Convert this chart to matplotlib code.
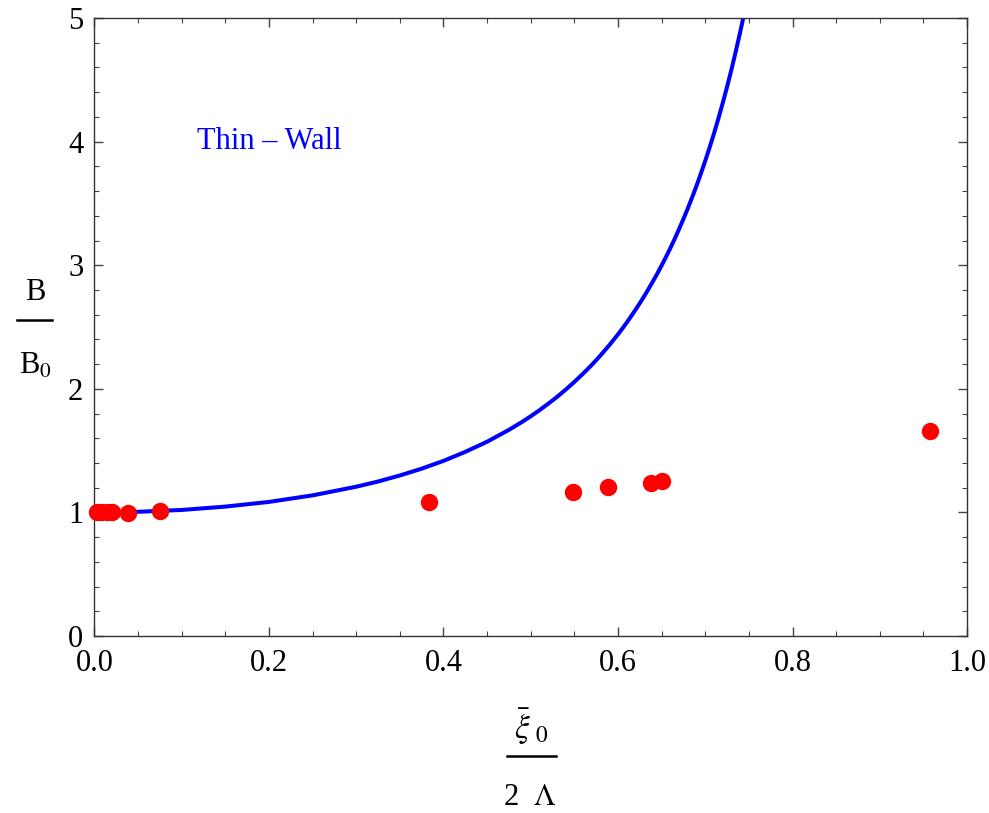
import matplotlib
matplotlib.use('Agg')
import matplotlib.pyplot as plt
from matplotlib.lines import Line2D
from matplotlib.ticker import MultipleLocator

# thin-wall curve
curve_x = [0.0, 0.05, 0.1, 0.15, 0.2, 0.25, 0.3, 0.325, 0.35, 0.375, 0.4,
           0.425, 0.45, 0.475, 0.49, 0.5, 0.51, 0.525, 0.53, 0.54, 0.55,
           0.56, 0.57, 0.575, 0.58, 0.59, 0.6, 0.605, 0.61, 0.615, 0.62,
           0.625, 0.63, 0.635, 0.64, 0.645, 0.65, 0.655, 0.66, 0.665, 0.67,
           0.675, 0.68, 0.685, 0.69, 0.695, 0.7, 0.705, 0.71, 0.715, 0.72,
           0.725, 0.73, 0.735, 0.74, 0.745, 0.75]
curve_y = [1.0, 1.005, 1.020, 1.047, 1.085, 1.138, 1.208, 1.250, 1.299,
           1.354, 1.417, 1.490, 1.572, 1.668, 1.732, 1.778, 1.827, 1.906,
           1.934, 1.993, 2.056, 2.123, 2.194, 2.232, 2.271, 2.353, 2.441,
           2.488, 2.536, 2.587, 2.639, 2.693, 2.749, 2.808, 2.869, 2.932,
           2.998, 3.067, 3.139, 3.214, 3.293, 3.375, 3.460, 3.550, 3.643,
           3.742, 3.845, 3.953, 4.066, 4.186, 4.312, 4.444, 4.583, 4.731,
           4.886, 5.050, 5.225]

# numerical points
pts_x = [0.003, 0.008, 0.014, 0.02, 0.038, 0.075, 0.383, 0.548, 0.589, 0.638,
         0.650, 0.957]
pts_y = [1.0, 1.0, 1.0, 1.0, 0.998, 1.015, 1.082, 1.167, 1.203, 1.235,
         1.254, 1.661]

plt.rcParams['font.family'] = ['Liberation Serif', 'DejaVu Serif']
plt.rcParams['mathtext.fontset'] = 'stix'

fig = plt.figure(figsize=(9.89, 8.13), dpi=100)
ax = fig.add_axes([0.0955, 0.2177, 0.8823, 0.7601])

ax.plot(curve_x, curve_y, color='#0000ff', linewidth=2.9, zorder=2,
        solid_joinstyle='round', solid_capstyle='round')
ax.plot(pts_x, pts_y, 'o', color='#ff0000', markersize=11.5, zorder=3,
        clip_on=False)

ax.set_xlim(0, 1)
ax.set_ylim(0, 5)
ax.xaxis.set_major_locator(MultipleLocator(0.2))
ax.xaxis.set_minor_locator(MultipleLocator(0.05))
ax.yaxis.set_major_locator(MultipleLocator(1))
ax.yaxis.set_minor_locator(MultipleLocator(0.2))
ax.set_xticklabels(['%.1f' % v for v in ax.get_xticks()])

ax.tick_params(which='both', direction='in', top=True, right=True,
               color='#444444', labelsize=22)
ax.tick_params(which='major', length=6.5, width=1)
ax.tick_params(which='minor', length=3.5, width=0.8)
ax.tick_params(axis='x', pad=9)
ax.tick_params(axis='y', pad=8)
for s in ax.spines.values():
    s.set_color('#333333')
    s.set_linewidth(1)

ax.text(0.2, 4.0, 'Thin \u2013 Wall', color='#0000ff', fontsize=22,
        ha='center', va='center')

# y label as a stacked fraction
fig.text(35 / 989, 1 - 293 / 813, 'B', fontsize=22, ha='center', va='center')
fig.text(35 / 989, 1 - 366 / 813, r'B$_0$', fontsize=22, ha='center',
         va='center')
fig.add_artist(Line2D([17 / 989, 52 / 989], [1 - 320 / 813, 1 - 320 / 813],
                      color='black', linewidth=1.8))

# x label as a stacked fraction
fig.text(531 / 989, 1 - 727 / 813, r'$\bar{\xi}_{\ 0}$', fontsize=24,
         ha='center', va='center')
fig.text(530 / 989, 1 - 797 / 813, r'2  $\Lambda$', fontsize=22,
         ha='center', va='center')
fig.add_artist(Line2D([507 / 989, 556 / 989], [1 - 756 / 813, 1 - 756 / 813],
                      color='black', linewidth=1.8))

fig.savefig('out.png', dpi=100)
